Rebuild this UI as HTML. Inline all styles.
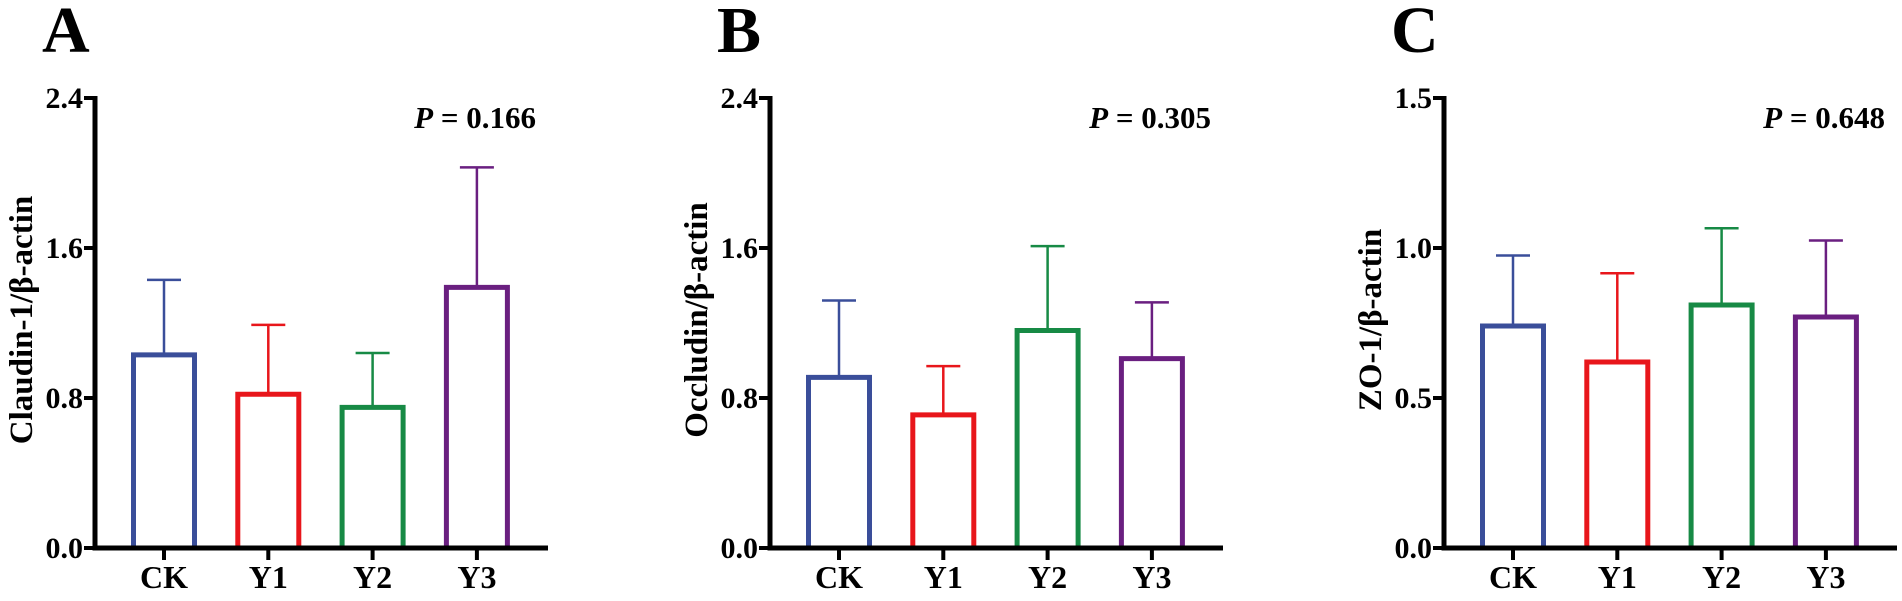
<!DOCTYPE html>
<html><head><meta charset="utf-8"><style>
html,body{margin:0;padding:0;background:#fff;}
svg{display:block;font-family:"Liberation Serif",serif;font-weight:bold;}
</style></head><body>
<svg id="fig" width="1902" height="601" viewBox="0 0 1902 601"></svg>
<script>
const categories = ["CK","Y1","Y2","Y3"];
const colors = ["#3a4e9a","#e8161b","#178a45","#6a1f80"];
const panelLetters = ["A","B","C"];
const yLabels = ["Claudin-1/β-actin","Occludin/β-actin","ZO-1/β-actin"];
const pTexts = ["0.166","0.305","0.648"];
const yMax = [2.4,2.4,1.5];
const tickA = [0,0.8,1.6,2.4];
const tickB = [0,0.8,1.6,2.4];
const tickC = [0,0.5,1.0,1.5];
const meansA = [1.03,0.82,0.75,1.39];
const errA = [1.43,1.19,1.04,2.03];
const meansB = [0.91,0.71,1.16,1.01];
const errB = [1.32,0.97,1.61,1.31];
const meansC = [0.74,0.62,0.81,0.77];
const errC = [0.975,0.916,1.066,1.025];

const NS="http://www.w3.org/2000/svg";
const svg=document.getElementById('fig');
function mk(tag,attrs,parent){const e=document.createElementNS(NS,tag);for(const k in attrs)e.setAttribute(k,attrs[k]);(parent||svg).appendChild(e);return e;}

const panels=[
 {ax:95,ticks:tickA,means:meansA,errs:errA},
 {ax:770,ticks:tickB,means:meansB,errs:errB},
 {ax:1444,ticks:tickC,means:meansC,errs:errC}];
const y0=548, yTop=98;
panels.forEach((p,pi)=>{
  const g=mk('g',{});
  
  
  const ys=v=>y0-(v/yMax[pi])*(y0-yTop);
  const xs=i=>p.ax+69+i*104.3;
  const L=mk('text',{x:p.ax-53,y:52,'font-size':66},g);L.textContent=panelLetters[pi];
  
  
  categories.forEach((c,i)=>{
    const cx=xs(i), top=ys(p.means[i]), et=ys(p.errs[i]);
    const e=mk('path',{d:`M${cx},${top} V${et} M${cx-17},${et} H${cx+17}`,stroke:colors[i],'stroke-width':2.5,fill:'none'},g);
    
    
    const r=mk('rect',{x:cx-30.5,y:top,width:61,height:y0-top,fill:'#fff',stroke:colors[i],'stroke-width':5},g);
    
    
    const t=mk('line',{x1:cx,x2:cx,y1:y0,y2:y0+12,stroke:'#000','stroke-width':4},g);
    
    
    const tl=mk('text',{x:cx,y:588,'font-size':32,'text-anchor':'middle'},g);tl.textContent=c;
    
    
  });
  const ya=mk('line',{x1:p.ax,x2:p.ax,y1:yTop-2,y2:y0+2.5,stroke:'#000','stroke-width':5},g);
  
  
  const xa=mk('line',{x1:p.ax-2.5,x2:p.ax+453,y1:y0,y2:y0,stroke:'#000','stroke-width':5},g);
  
  
  p.ticks.forEach(v=>{
    const y=ys(v);
    const t=mk('line',{x1:p.ax-11,x2:p.ax,y1:y,y2:y,stroke:'#000','stroke-width':4},g);
    
    
    const tl=mk('text',{x:p.ax-12,y:y+10,'font-size':30,'text-anchor':'end'},g);tl.textContent=v.toFixed(1);
    
    
  });
  const yl=mk('text',{x:0,y:0,'font-size':33,'text-anchor':'middle',transform:`translate(${p.ax-63},320) rotate(-90)`},g);
  yl.textContent=yLabels[pi];
  
  
  const pt=mk('text',{x:p.ax+441,y:128,'font-size':31,'text-anchor':'end'},g);
  pt.innerHTML='<tspan font-style="italic">P</tspan> = '+pTexts[pi];
  
  
});
</script>
</body></html>
